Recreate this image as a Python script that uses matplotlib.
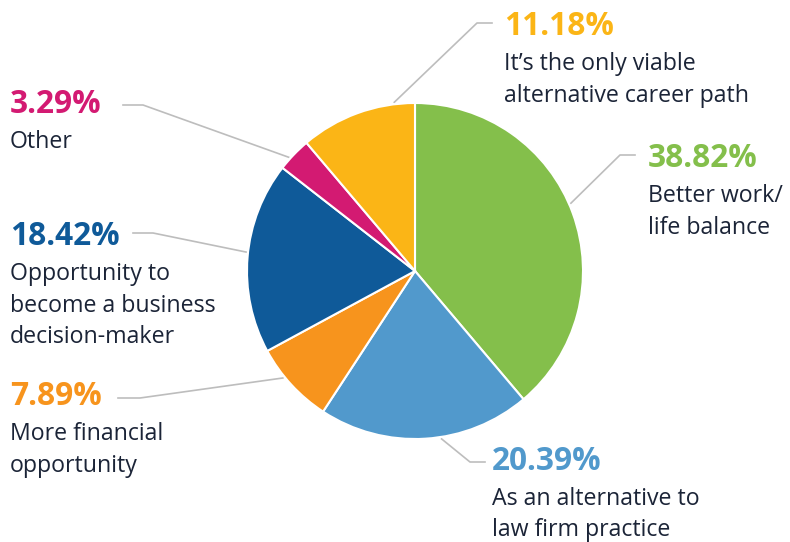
import numpy as np
import matplotlib.pyplot as plt

plt.rcParams['font.family'] = ['Open Sans', 'DejaVu Sans']

# survey shares, clockwise from 12 o'clock
labels = [
    "Better work/\nlife balance",
    "As an alternative to\nlaw firm practice",
    "More financial\nopportunity",
    "Opportunity to\nbecome a business\ndecision-maker",
    "Other",
    "It\u2019s the only viable\nalternative career path",
]
shares = [38.82, 20.39, 7.89, 18.42, 3.29, 11.18]
colors = ["#84BF4B", "#5199CC", "#F7941D", "#0F5A99", "#D31A72", "#FBB516"]

W, H = 790, 542
CX, CY, R = 415, 271, 168
TEXT = "#1B2437"
LINE = "#BDBDBD"

# label layout in pixel coords (y down): text x, percent baseline,
# elbow start/end of the leader, angle where the leader meets the pie
label_x = [648, 492, 10, 10, 10, 504]
label_base = [167, 470, 405, 245, 113, 35]
elbow_a = [(620, 155), (470, 462), (140, 398), (153, 233), (143, 105), (477, 23)]
elbow_b = [(635, 155), (485, 462), (118, 398), (133, 233), (123, 105), (492, 23)]
touch_deg = [23.5, -81.0, 219.0, 173.6, 138.0, 97.0]

fig = plt.figure(figsize=(W / 100, H / 100), dpi=100)
ax = fig.add_axes([0, 0, 1, 1])
ax.set_xlim(0, W)
ax.set_ylim(0, H)
ax.set_aspect('equal')
ax.axis('off')

ax.pie(shares, colors=colors, startangle=90, counterclock=False,
       center=(CX, H - CY), radius=R,
       wedgeprops=dict(edgecolor='white', linewidth=1.5))
ax.set_xlim(0, W)
ax.set_ylim(0, H)

for i in range(len(shares)):
    a = np.radians(touch_deg[i])
    px = CX + 170 * np.cos(a)
    py = CY - 170 * np.sin(a)
    xs = [px, elbow_a[i][0], elbow_b[i][0]]
    ys = [H - py, H - elbow_a[i][1], H - elbow_b[i][1]]
    ax.plot(xs, ys, color=LINE, lw=1.2, zorder=0)

    b = label_base[i]
    ax.text(label_x[i], H - b, f"{shares[i]:.2f}%", color=colors[i],
            fontsize=22.8, fontweight='bold', va='baseline', ha='left')
    for j, line in enumerate(labels[i].split("\n")):
        ax.text(label_x[i], H - (b + 35 + 31.5 * j), line, color=TEXT,
                fontsize=16.7, va='baseline', ha='left')

fig.savefig("out.png", dpi=100)
